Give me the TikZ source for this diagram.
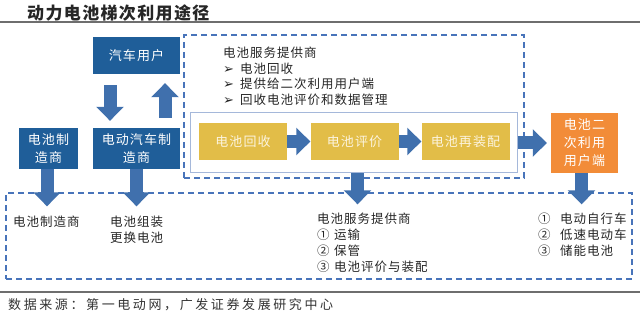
\documentclass[tikz,border=0pt]{standalone}
\usepackage{fontspec}
\setmainfont{Noto Sans CJK SC}[LetterSpace=8]
\newfontfamily\symfont{DejaVu Sans}
\usetikzlibrary{arrows.meta}
\definecolor{BoxBlue}{RGB}{31, 94, 153}
\definecolor{ArrowBlue}{RGB}{64, 112, 173}
\definecolor{DashBlue}{RGB}{72, 116, 186}
\definecolor{FrameBlue}{RGB}{165, 184, 218}
\definecolor{StepGold}{RGB}{226, 189, 72}
\definecolor{StepText}{RGB}{252, 244, 222}
\definecolor{UserOrange}{RGB}{242, 140, 56}
\definecolor{RuleGray}{RGB}{110, 110, 110}

\begin{document}
\begin{tikzpicture}[x=1pt, y=-1pt,
  bluebox/.style={fill=BoxBlue, text=white, align=center, inner sep=0pt, font=\fontsize{13}{18}\selectfont},
  goldbox/.style={fill=StepGold, text=StepText, minimum width=88pt, minimum height=37pt, inner sep=0pt, font=\fontsize{13}{18}\selectfont},
  dashframe/.style={draw=DashBlue, line width=1.4pt, dash pattern=on 6pt off 4pt, inner sep=0pt},
  fatarrow/.style={draw=ArrowBlue, line width=13pt, -{Triangle[width=27pt,length=14pt]}},
  note/.style={anchor=north west, inner sep=0pt, align=left, text=black!85, font=\fontsize{12.5}{16}\selectfont}]
  \useasboundingbox (0,0) rectangle (640,318);

  % Title and rules
  \node[anchor=west, inner sep=0pt, text=black!85, font=\fontsize{17}{20}\selectfont\bfseries] (title) at (27,13) {动力电池梯次利用途径};
  \draw[RuleGray, line width=1.2pt] (0,22) -- (640,22);
  \draw[RuleGray, line width=1.2pt] (0,292) -- (640,292);
  \node[anchor=west, inner sep=0pt, text=black!80, font=\fontsize{13}{16}\selectfont\addfontfeature{LetterSpace=20}] (source) at (8,305) {数据来源：第一电动网，广发证券发展研究中心};

  % Dashed frames
  \node[dashframe, minimum width=340pt, minimum height=143pt] (svcframe) at (354,106.5) {};
  \node[dashframe, minimum width=626pt, minimum height=86pt] (usebox) at (319,236) {};
  \node[draw=FrameBlue, line width=1pt, minimum width=327pt, minimum height=60pt, inner sep=0pt] (chain) at (353.5,143) {};

  % Car side
  \node[bluebox, minimum width=87pt, minimum height=37pt] (user) at (136.5,55.5) {汽车用户};
  \node[bluebox, minimum width=59pt, minimum height=41pt] (cellmaker) at (48.5,148.5) {电池制\\造商};
  \node[bluebox, minimum width=87pt, minimum height=41pt] (evmaker) at (136.5,148.5) {电动汽车制\\造商};

  % Service chain
  \node[goldbox] (recycle) at (243,141.5) {电池回收};
  \node[goldbox] (assess) at (354.5,141.5) {电池评价};
  \node[goldbox] (rebuild) at (465.5,141.5) {电池再装配};
  \node[fill=UserOrange, text=white, align=center, minimum width=67pt, minimum height=60pt, inner sep=0pt, font=\fontsize{13}{18}\selectfont] (secuse) at (584.5,143) {电池二\\次利用\\用户端};

  % Service notes
  \node[note, font=\fontsize{12.5}{15.5}\selectfont] (svcnote) at (223,47) {电池服务提供商\\
    \makebox[17pt][l]{\symfont\fontsize{13}{15}\selectfont ➢}电池回收\\
    \makebox[17pt][l]{\symfont\fontsize{13}{15}\selectfont ➢}提供给二次利用用户端\\
    \makebox[17pt][l]{\symfont\fontsize{13}{15}\selectfont ➢}回收电池评价和数据管理};

  % Arrows
  \draw[fatarrow, shorten <=11pt, shorten >=7pt] ([xshift=-26.5pt]user.south) -- ([xshift=-26.5pt]evmaker.north);
  \draw[fatarrow, shorten <=10pt, shorten >=9pt] ([xshift=28.5pt]evmaker.north) -- ([xshift=28.5pt]user.south);
  \draw[fatarrow, shorten >=-14pt] ([xshift=-1.5pt]cellmaker.south) -- ([xshift=-1.5pt]cellmaker.south |- usebox.north);
  \draw[fatarrow, shorten >=-14pt] (evmaker.south) -- (evmaker.south |- usebox.north);
  \draw[fatarrow] (recycle) -- (assess);
  \draw[fatarrow] (assess) -- (rebuild);
  \draw[fatarrow, shorten >=4pt] (chain.east) -- (secuse.west);
  \draw[fatarrow, shorten >=-12pt] ([xshift=4pt]chain.south) -- ([xshift=4pt]chain.south |- usebox.north);
  \draw[fatarrow, shorten >=-12pt] ([xshift=-3pt]secuse.south) -- ([xshift=-3pt]secuse.south |- usebox.north);

  % Uses
  \node[note] (makeruse) at (13,216) {电池制造商};
  \node[note] (evuse) at (110,216) {电池组装\\更换电池};
  \node[note] (svcuse) at (317,213) {电池服务提供商\\
    \makebox[17pt][l]{①}运输\\
    \makebox[17pt][l]{②}保管\\
    \makebox[17pt][l]{③}电池评价与装配};
  \node[note] (enduse) at (538,213) {\makebox[22pt][l]{①}电动自行车\\
    \makebox[22pt][l]{②}低速电动车\\
    \makebox[22pt][l]{③}储能电池};
\end{tikzpicture}
\end{document}
